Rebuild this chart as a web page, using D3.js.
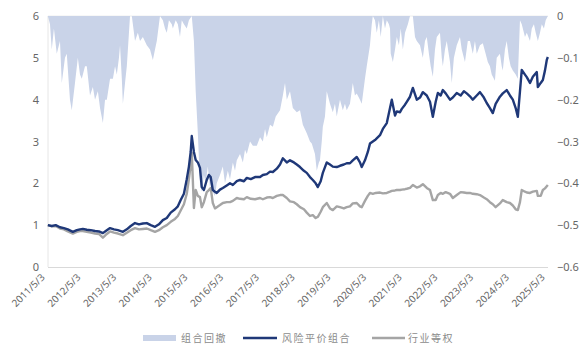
<!DOCTYPE html>
<html><head><meta charset="utf-8">
<script src="https://cdn.jsdelivr.net/npm/d3@7"></script>
<style>
html,body{margin:0;padding:0;background:#fff;}
svg{display:block;font-family:"Noto Sans CJK SC","Noto Sans",sans-serif;}
</style></head>
<body><svg id="c" width="588" height="351"></svg>
<script>
// ---- data (dates as decimal years) ----
const lineYears = [2011.33,2011.44,2011.55,2011.67,2011.78,2011.89,2012.03,2012.14,2012.23,2012.31,2012.42,2012.53,2012.65,2012.76,2012.87,2012.95,2013.07,2013.18,2013.29,2013.43,2013.54,2013.65,2013.77,2013.88,2013.99,2014.10,2014.21,2014.33,2014.44,2014.55,2014.66,2014.77,2014.89,2014.97,2015.05,2015.14,2015.22,2015.28,2015.33,2015.36,2015.42,2015.47,2015.53,2015.59,2015.64,2015.70,2015.78,2015.84,2015.89,2015.95,2016.01,2016.06,2016.15,2016.23,2016.34,2016.43,2016.51,2016.62,2016.71,2016.82,2016.90,2017.01,2017.13,2017.27,2017.35,2017.46,2017.55,2017.63,2017.74,2017.83,2017.91,2018.02,2018.11,2018.22,2018.30,2018.39,2018.50,2018.58,2018.67,2018.75,2018.83,2018.89,2018.97,2019.03,2019.14,2019.23,2019.31,2019.42,2019.51,2019.62,2019.70,2019.79,2019.87,2019.98,2020.07,2020.12,2020.21,2020.29,2020.35,2020.43,2020.51,2020.63,2020.71,2020.82,2020.91,2020.96,2021.05,2021.10,2021.19,2021.24,2021.33,2021.38,2021.47,2021.55,2021.66,2021.75,2021.83,2021.94,2022.03,2022.11,2022.19,2022.25,2022.33,2022.39,2022.47,2022.59,2022.67,2022.78,2022.89,2022.98,2023.06,2023.15,2023.23,2023.34,2023.43,2023.54,2023.62,2023.71,2023.79,2023.87,2023.99,2024.07,2024.18,2024.27,2024.35,2024.43,2024.49,2024.55,2024.60,2024.69,2024.74,2024.83,2024.91,2025.02,2025.05,2025.13,2025.19,2025.25,2025.30,2025.33];
const riskParity = [1.00,0.98,1.00,0.95,0.93,0.90,0.84,0.88,0.90,0.91,0.89,0.88,0.86,0.85,0.81,0.86,0.93,0.90,0.88,0.84,0.90,0.98,1.05,1.02,1.04,1.05,1.00,0.96,1.02,1.12,1.17,1.30,1.38,1.45,1.60,1.75,2.10,2.40,2.75,3.13,2.75,2.56,2.50,2.37,1.91,1.84,2.08,2.20,2.15,1.84,1.80,1.77,1.85,1.89,1.95,2.00,1.96,2.05,2.08,2.05,2.13,2.10,2.15,2.15,2.20,2.22,2.28,2.27,2.35,2.45,2.60,2.50,2.55,2.50,2.45,2.39,2.30,2.25,2.15,2.08,2.00,1.91,2.05,2.25,2.50,2.45,2.40,2.39,2.42,2.45,2.48,2.48,2.55,2.63,2.50,2.39,2.55,2.75,2.95,3.00,3.05,3.15,3.30,3.44,3.80,4.00,3.62,3.72,3.70,3.78,3.88,3.95,4.07,4.28,4.00,4.05,4.18,4.10,3.95,3.59,3.95,4.16,4.10,4.23,4.15,4.00,4.05,4.16,4.10,4.20,4.15,4.08,4.00,4.10,4.18,4.05,3.92,3.80,3.68,3.90,4.07,4.15,4.23,4.10,4.00,3.80,3.59,4.20,4.71,4.60,4.54,4.40,4.55,4.66,4.30,4.40,4.47,4.70,4.95,5.02];
const equalWeight = [1.00,0.97,0.98,0.92,0.90,0.85,0.80,0.84,0.86,0.86,0.84,0.82,0.80,0.79,0.70,0.77,0.85,0.82,0.80,0.76,0.82,0.88,0.93,0.90,0.91,0.92,0.88,0.84,0.88,0.95,1.00,1.08,1.15,1.22,1.35,1.50,1.75,2.10,2.45,2.73,1.41,1.84,1.70,1.67,1.43,1.55,1.79,1.84,1.89,1.53,1.40,1.43,1.48,1.53,1.55,1.55,1.58,1.65,1.63,1.62,1.67,1.63,1.62,1.65,1.62,1.66,1.67,1.65,1.70,1.72,1.72,1.65,1.57,1.55,1.50,1.43,1.38,1.30,1.22,1.24,1.17,1.20,1.32,1.43,1.53,1.40,1.36,1.45,1.43,1.40,1.43,1.45,1.52,1.53,1.45,1.43,1.58,1.70,1.77,1.75,1.77,1.78,1.76,1.77,1.80,1.82,1.83,1.84,1.84,1.85,1.86,1.87,1.89,1.96,1.90,1.93,1.98,1.89,1.84,1.60,1.60,1.72,1.77,1.75,1.79,1.75,1.65,1.72,1.79,1.78,1.77,1.77,1.75,1.74,1.72,1.66,1.62,1.55,1.50,1.43,1.52,1.60,1.55,1.53,1.47,1.38,1.36,1.55,1.84,1.80,1.78,1.77,1.80,1.82,1.70,1.70,1.84,1.88,1.93,1.96];
const ddYears = [2011.33,2011.39,2011.44,2011.50,2011.58,2011.67,2011.72,2011.81,2011.86,2011.95,2012.00,2012.09,2012.17,2012.23,2012.28,2012.37,2012.42,2012.51,2012.59,2012.65,2012.73,2012.79,2012.87,2012.93,2012.98,2013.07,2013.15,2013.21,2013.26,2013.32,2013.35,2013.40,2013.43,2013.49,2013.54,2013.60,2013.63,2013.68,2013.74,2013.77,2013.85,2013.91,2013.99,2014.10,2014.19,2014.27,2014.33,2014.38,2014.44,2014.47,2014.55,2014.61,2014.66,2014.72,2014.80,2014.83,2014.91,2014.97,2015.03,2015.08,2015.14,2015.22,2015.28,2015.36,2015.42,2015.47,2015.53,2015.59,2015.64,2015.70,2015.75,2015.81,2015.87,2015.92,2015.95,2016.01,2016.06,2016.15,2016.23,2016.29,2016.37,2016.43,2016.51,2016.57,2016.62,2016.71,2016.79,2016.85,2016.90,2016.99,2017.07,2017.18,2017.27,2017.35,2017.41,2017.46,2017.55,2017.63,2017.71,2017.83,2017.91,2017.97,2018.02,2018.11,2018.19,2018.30,2018.39,2018.47,2018.58,2018.67,2018.72,2018.81,2018.86,2018.92,2018.95,2019.00,2019.03,2019.09,2019.14,2019.23,2019.31,2019.37,2019.42,2019.51,2019.59,2019.65,2019.70,2019.79,2019.87,2019.93,2019.98,2020.07,2020.12,2020.21,2020.26,2020.35,2020.40,2020.43,2020.49,2020.54,2020.60,2020.65,2020.71,2020.77,2020.82,2020.88,2020.91,2020.93,2020.99,2021.05,2021.10,2021.16,2021.21,2021.27,2021.33,2021.41,2021.47,2021.55,2021.61,2021.66,2021.75,2021.83,2021.89,2021.94,2022.00,2022.05,2022.11,2022.17,2022.22,2022.31,2022.36,2022.39,2022.45,2022.50,2022.59,2022.64,2022.70,2022.78,2022.87,2022.92,2023.01,2023.09,2023.15,2023.23,2023.29,2023.34,2023.43,2023.51,2023.59,2023.65,2023.71,2023.76,2023.85,2023.90,2023.99,2024.04,2024.07,2024.13,2024.18,2024.24,2024.29,2024.35,2024.43,2024.49,2024.55,2024.60,2024.69,2024.74,2024.83,2024.88,2024.94,2024.99,2025.05,2025.11,2025.16,2025.22,2025.27,2025.33];
const drawdown = [0,-0.02,-0.08,-0.03,-0.09,-0.06,-0.16,-0.10,-0.09,-0.20,-0.225,-0.16,-0.10,-0.14,-0.15,-0.12,-0.12,-0.19,-0.17,-0.20,-0.18,-0.22,-0.256,-0.20,-0.20,-0.15,-0.15,-0.12,-0.14,-0.10,-0.07,-0.15,-0.21,-0.16,-0.12,-0.04,0,0,-0.04,-0.06,-0.04,-0.06,-0.05,-0.07,-0.08,-0.105,-0.08,-0.06,-0.02,0,-0.01,-0.03,-0.04,-0.01,-0.02,-0.03,-0.01,-0.02,-0.05,-0.01,-0.02,-0.03,-0.01,0,-0.06,-0.18,-0.28,-0.40,-0.42,-0.38,-0.40,-0.36,-0.41,-0.39,-0.42,-0.43,-0.40,-0.38,-0.36,-0.40,-0.37,-0.39,-0.35,-0.37,-0.345,-0.33,-0.35,-0.32,-0.33,-0.30,-0.31,-0.31,-0.29,-0.30,-0.27,-0.29,-0.26,-0.265,-0.24,-0.225,-0.19,-0.16,-0.20,-0.18,-0.22,-0.23,-0.225,-0.26,-0.28,-0.30,-0.305,-0.33,-0.37,-0.35,-0.345,-0.30,-0.265,-0.24,-0.18,-0.21,-0.23,-0.21,-0.24,-0.20,-0.225,-0.21,-0.225,-0.21,-0.16,-0.19,-0.185,-0.20,-0.21,-0.15,-0.12,-0.07,-0.02,0,-0.01,-0.04,-0.01,-0.05,0,-0.03,-0.01,-0.02,-0.03,-0.09,-0.11,-0.08,-0.05,-0.07,-0.03,-0.08,-0.04,-0.02,0,0,-0.05,-0.06,-0.07,-0.10,-0.06,-0.05,-0.09,-0.12,-0.145,-0.08,-0.05,-0.04,-0.10,-0.12,-0.08,-0.06,-0.11,-0.16,-0.10,-0.07,-0.05,-0.08,-0.11,-0.06,-0.06,-0.09,-0.06,-0.09,-0.07,-0.065,-0.09,-0.11,-0.12,-0.14,-0.155,-0.10,-0.09,-0.12,-0.13,-0.08,-0.06,-0.10,-0.12,-0.13,-0.14,-0.15,-0.01,-0.02,-0.05,-0.04,-0.06,-0.03,-0.02,-0.04,-0.06,-0.04,-0.02,-0.03,-0.01,0];
const xTickDates = ["2011-05-03","2012-05-03","2013-05-03","2014-05-03","2015-05-03","2016-05-03","2017-05-03","2018-05-03","2019-05-03","2020-05-03","2021-05-03","2022-05-03","2023-05-03","2024-05-03","2025-05-03"];
const leftTicks = [0,1,2,3,4,5,6];
const rightTicks = [0,-0.1,-0.2,-0.3,-0.4,-0.5,-0.6];
const legendLabels = ["组合回撤","风险平价组合","行业等权"];

// ---- helpers ----
function yearToDate(t){
  const y = Math.floor(t);
  const start = new Date(y,0,1), end = new Date(y+1,0,1);
  return new Date(+start + (t - y) * (end - start));
}
const parse = d3.timeParse("%Y-%m-%d");

const svg = d3.select("#c");
const L = 48, R = 548, T = 16, B = 267;
const x = d3.scaleTime().domain([parse("2011-05-03"), parse("2025-05-03")]).range([L, R]);
const yL = d3.scaleLinear().domain([0,6]).range([B,T]);
const yR = d3.scaleLinear().domain([-0.6,0]).range([B,T]);

const ddData = ddYears.map((t,i)=>({d:yearToDate(t), v:drawdown[i]}));
const rpData = lineYears.map((t,i)=>({d:yearToDate(t), v:riskParity[i]}));
const ewData = lineYears.map((t,i)=>({d:yearToDate(t), v:equalWeight[i]}));

// frame lines
svg.append("line").attr("x1",L).attr("x2",R).attr("y1",T).attr("y2",T).attr("stroke","#eeeeee").attr("stroke-width",1);
svg.append("line").attr("x1",L).attr("x2",L).attr("y1",T).attr("y2",B).attr("stroke","#e6e6e6").attr("stroke-width",1);

// drawdown area
svg.append("path").datum(ddData)
  .attr("fill","#c9d3e8")
  .attr("d", d3.area().x(d=>x(d.d)).y0(yR(0)).y1(d=>yR(d.v)));

// bottom axis line
svg.append("line").attr("x1",L).attr("x2",R).attr("y1",B+0.5).attr("y2",B+0.5).attr("stroke","#d9d9d9").attr("stroke-width",1.2);

// lines
const line = d3.line().x(d=>x(d.d)).y(d=>yL(d.v));
svg.append("path").datum(ewData).attr("fill","none").attr("stroke","#a5a5a5").attr("stroke-width",2.4).attr("stroke-linejoin","round").attr("d",line);
svg.append("path").datum(rpData).attr("fill","none").attr("stroke","#1f3878").attr("stroke-width",2.4).attr("stroke-linejoin","round").attr("d",line);

// left axis
const gl = svg.append("g").attr("transform",`translate(${L},0)`)
  .call(d3.axisLeft(yL).tickValues(leftTicks).tickSize(0).tickPadding(9).tickFormat(d3.format("d")));
gl.select(".domain").remove();
gl.selectAll("text").attr("fill","#666").style("font-size","11px").style("font-family","'Noto Sans',sans-serif");

// right axis
const gr = svg.append("g").attr("transform",`translate(${R},0)`)
  .call(d3.axisRight(yR).tickValues(rightTicks).tickSize(0).tickPadding(9).tickFormat(d=> d===0 ? "0" : d3.format(".1f")(d).replace("-","−")));
gr.select(".domain").remove();
gr.selectAll("text").attr("fill","#666").style("font-size","11px").style("font-family","'Noto Sans',sans-serif");

// bottom axis
const fmt = d3.timeFormat("%Y/%-m/%-d");
const gb = svg.append("g").attr("transform",`translate(0,${B})`)
  .call(d3.axisBottom(x).tickValues(xTickDates.map(parse)).tickSize(0).tickFormat(fmt));
gb.select(".domain").remove();
gb.selectAll("text")
  .attr("fill","#666").style("font-size","10px").style("font-family","'Noto Sans',sans-serif")
  .attr("text-anchor","end").attr("dy",null).attr("y",0)
  .attr("transform","translate(-3,11) rotate(-45)");

// legend
const lg = svg.append("g").attr("transform","translate(0,338)");
lg.append("rect").attr("x",143).attr("y",-3).attr("width",33).attr("height",6).attr("fill","#c9d3e8");
lg.append("line").attr("x1",243).attr("x2",277).attr("y1",0).attr("y2",0).attr("stroke","#1f3878").attr("stroke-width",2.4);
lg.append("line").attr("x1",372).attr("x2",405).attr("y1",0).attr("y2",0).attr("stroke","#a5a5a5").attr("stroke-width",2.4);
const lx = [181, 282, 408];
legendLabels.forEach((s,i)=>{
  lg.append("text").attr("x",lx[i]).attr("y",4).text(s)
    .attr("fill","#8c8c8c").style("font-size","10px").style("letter-spacing","1.5px");
});
</script></body></html>
